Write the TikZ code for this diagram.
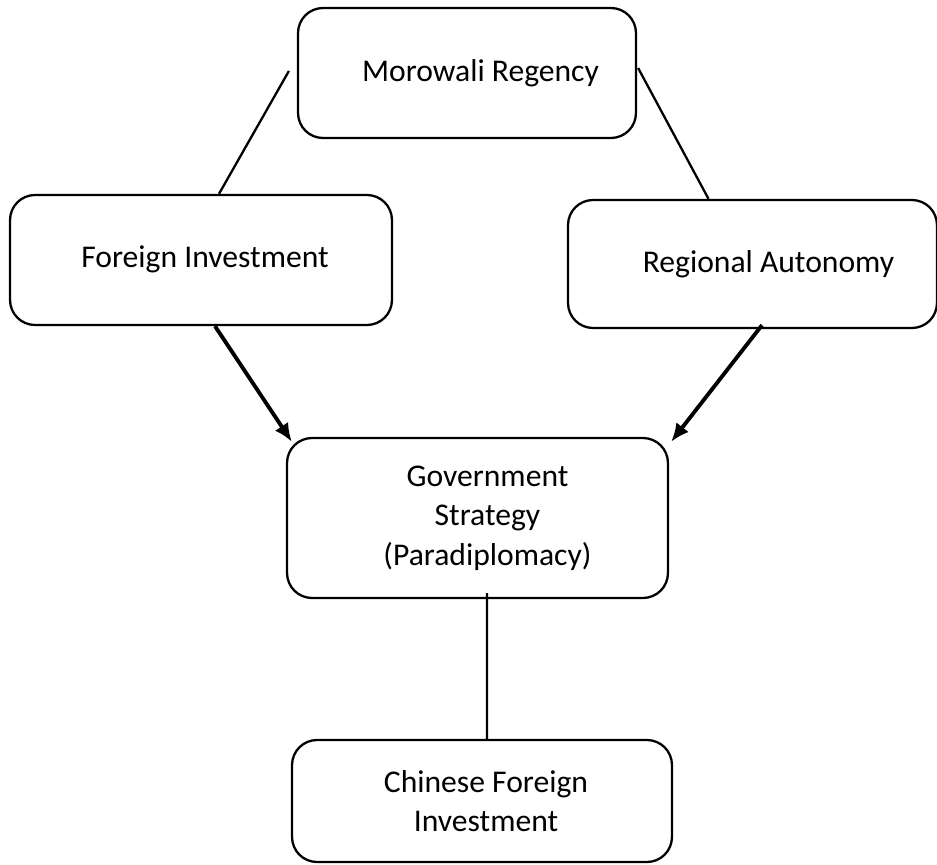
\documentclass[tikz,border=0pt]{standalone}
\usepackage{fontspec}
\setmainfont{Carlito}
\usetikzlibrary{arrows.meta}
\begin{document}
\begin{tikzpicture}[x=0.02cm, y=-0.02cm,
    box/.style = {draw=black, line width=1.3pt, rounded corners=0.5cm,
                  align=center, inner sep=0pt,
                  font=\fontsize{18}{22.5}\selectfont},
    link/.style = {line width=1.3pt},
    push/.style = {line width=2.2pt, -{Latex[length=10.5pt,width=9pt]}}]

    \useasboundingbox (0,0) rectangle (937,865);

    \node[box, minimum width=6.76cm, minimum height=2.6cm] (mor) at (467,73)  {\hspace*{0.54cm}Morowali Regency};
    \node[box, minimum width=7.64cm, minimum height=2.6cm] (fi)  at (201,260) {\hspace*{0.16cm}\raisebox{0.12cm}{Foreign Investment}};
    \node[box, minimum width=7.38cm, minimum height=2.56cm] (ra) at (752.5,264) {\hspace*{0.64cm}Regional Autonomy};
    \node[box, minimum width=7.62cm, minimum height=3.2cm] (gs)  at (477.5,518) {\hspace*{0.4cm}Government\\\hspace*{0.4cm}Strategy\\\hspace*{0.4cm}(Paradiplomacy)};
    \node[box, minimum width=7.6cm, minimum height=2.44cm] (cfi) at (482,801) {\hspace*{0.16cm}Chinese Foreign\\\hspace*{0.16cm}Investment};

    \draw[link] ([shift={(-0.16cm,0.04cm)}]mor.west) -- ([xshift=0.36cm]fi.north);
    \draw[link] ([shift={(0.02cm,0.1cm)}]mor.east) -- ([xshift=-0.88cm]ra.north);
    \draw[push] ([xshift=0.28cm]fi.south) -- ([shift={(0.12cm,-0.1cm)}]gs.north west);
    \draw[push] ([shift={(0.19cm,0.08cm)}]ra.south) -- ([shift={(0.04cm,-0.1cm)}]gs.north east);
    \draw[link] ([shift={(0.19cm,0.12cm)}]gs.south) -- ([xshift=0.1cm]cfi.north);
\end{tikzpicture}
\end{document}
